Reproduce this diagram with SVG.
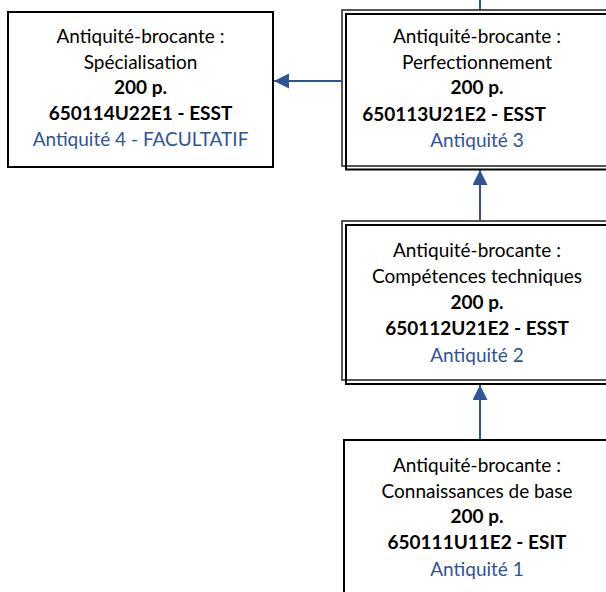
<svg xmlns="http://www.w3.org/2000/svg" width="606" height="592" viewBox="0 0 606 592">
<defs>
<style>
text{font-family:Lato,"Liberation Sans",sans-serif;font-size:19px;fill:#000;text-anchor:middle}
.b{font-weight:bold}
.bl{fill:#2F5496}
.box{fill:#fff;stroke:#000;stroke-width:2}
.dbo{fill:none;stroke:#444;stroke-width:1.8}
.dbi{fill:none;stroke:#000;stroke-width:2}
.con{stroke:#2F5496;stroke-width:2;fill:none}
</style>
<marker id="ah" markerUnits="userSpaceOnUse" markerWidth="16" markerHeight="16" refX="15" refY="7.5" orient="auto">
<path d="M0,0 L15,7.5 L0,15 Z" fill="#2F5496"/>
</marker>
</defs>
<rect width="606" height="592" fill="#fff"/>
<g id="connectors">
<line class="con" x1="480" y1="0" x2="480" y2="10"/>
<line class="con" x1="342" y1="81" x2="274" y2="81" marker-end="url(#ah)"/>
<line class="con" x1="480" y1="222" x2="480" y2="170" marker-end="url(#ah)"/>
<line class="con" x1="480" y1="440" x2="480" y2="385" marker-end="url(#ah)"/>
</g>
<g id="node4">
<rect class="box" x="8" y="12" width="265" height="155"/>
<text x="140.5" y="43">Antiquité-brocante :</text>
<text x="140.5" y="68.5">Spécialisation</text>
<text class="b" x="140.5" y="94">200 p.</text>
<text class="b" x="140.5" y="120">650114U22E1 - ESST</text>
<text class="bl" x="140.5" y="146">Antiquité 4 - FACULTATIF</text>
</g>
<g id="node3">
<rect x="342" y="10" width="280" height="157" fill="#fff"/>
<rect class="dbo" x="342" y="10" width="280" height="156"/>
<rect class="dbi" x="346" y="14" width="280" height="155.5"/>
<text x="477" y="43">Antiquité-brocante :</text>
<text x="477" y="68.5">Perfectionnement</text>
<text class="b" x="477" y="94">200 p.</text>
<text class="b" x="454" y="121">650113U21E2 - ESST</text>
<text class="bl" x="477" y="147">Antiquité 3</text>
</g>
<g id="node2">
<rect x="342" y="221" width="280" height="160" fill="#fff"/>
<rect class="dbo" x="342" y="221" width="280" height="159"/>
<rect class="dbi" x="346" y="225" width="280" height="159"/>
<text x="477" y="257">Antiquité-brocante :</text>
<text x="477" y="282.5">Compétences techniques</text>
<text class="b" x="477" y="309">200 p.</text>
<text class="b" x="477" y="335">650112U21E2 - ESST</text>
<text class="bl" x="477" y="361.5">Antiquité 2</text>
</g>
<g id="node1">
<rect class="box" x="344" y="440" width="280" height="170"/>
<text x="477" y="472">Antiquité-brocante :</text>
<text x="477" y="497.5">Connaissances de base</text>
<text class="b" x="477" y="523">200 p.</text>
<text class="b" x="477" y="549">650111U11E2 - ESIT</text>
<text class="bl" x="477" y="576">Antiquité 1</text>
</g>
</svg>
